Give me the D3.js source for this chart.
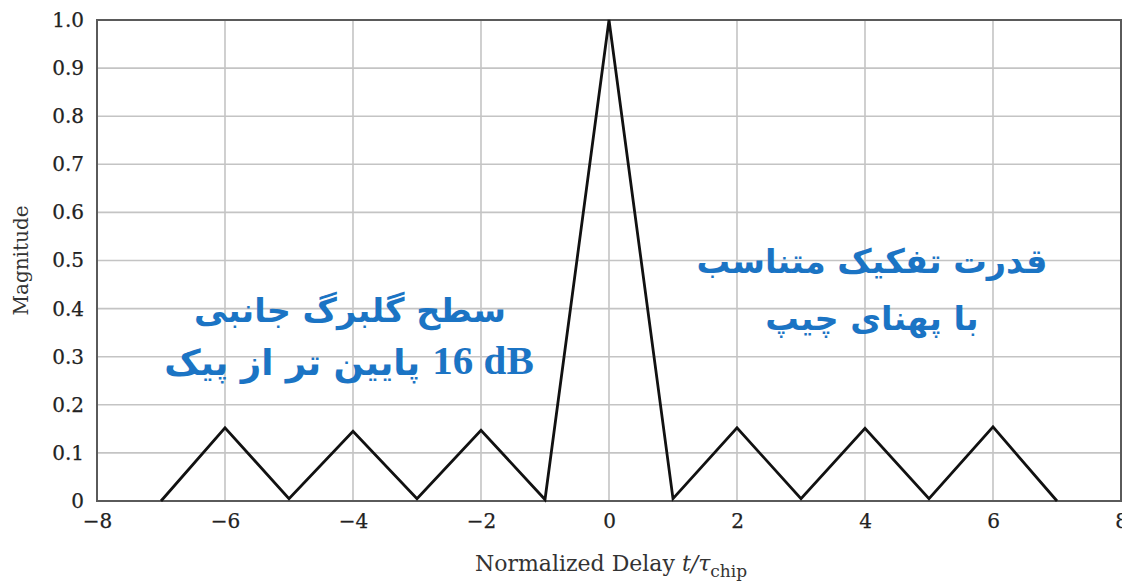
<!DOCTYPE html>
<html>
<head>
<meta charset="utf-8">
<script src="https://cdn.jsdelivr.net/npm/d3@7/dist/d3.min.js"></script>
<style>
  html, body { margin: 0; padding: 0; background: #fff; }
  svg { display: block; }
</style>
</head>
<body>
<script>
// Autocorrelation of a spreading code vs. normalized delay
const delays = [-7, -6, -5, -4, -3, -2, -1, 0, 1, 2, 3, 4, 5, 6, 7];
const magnitude = [0, 0.152, 0.005, 0.145, 0.005, 0.147, 0.003, 1.0, 0.005, 0.152, 0.005, 0.151, 0.005, 0.154, 0];
const xTicks = [-8, -6, -4, -2, 0, 2, 4, 6, 8];
const yTicks = [0, 0.1, 0.2, 0.3, 0.4, 0.5, 0.6, 0.7, 0.8, 0.9, 1.0];
const sidelobeTitle = "سطح گلبرگ جانبی";
const sidelobeLevel = "16\u200E dB";
const sidelobeRest = " پایین تر از پیک";
const resolutionNote = ["قدرت تفکیک متناسب", "با پهنای چیپ"];

const W = 1122, H = 582;
const margin = { top: 20, right: 1, bottom: 81, left: 97 };

const svg = d3.select("body").append("svg").attr("width", W).attr("height", H);

const x = d3.scaleLinear().domain([-8, 8]).range([margin.left, W - margin.right]);
const y = d3.scaleLinear().domain([0, 1]).range([H - margin.bottom, margin.top]);

const serif = "'DejaVu Serif', serif";

// grid
const grid = svg.append("g").attr("stroke", "#c4c4c4").attr("stroke-width", 1.6);
grid.selectAll("line.v").data(xTicks).join("line")
  .attr("x1", d => x(d)).attr("x2", d => x(d))
  .attr("y1", y(0)).attr("y2", y(1));
grid.selectAll("line.h").data(yTicks).join("line")
  .attr("x1", x(-8)).attr("x2", x(8))
  .attr("y1", d => y(d)).attr("y2", d => y(d));

// axes (labels only, frame drawn separately)
const xAxis = svg.append("g")
  .attr("transform", `translate(0,${y(0)})`)
  .call(d3.axisBottom(x).tickValues(xTicks).tickSize(0).tickPadding(13).tickFormat(d3.format("d")));
const yAxis = svg.append("g")
  .attr("transform", `translate(${x(-8)},0)`)
  .call(d3.axisLeft(y).tickValues(yTicks).tickSize(0).tickPadding(13)
    .tickFormat(d => d === 0 ? "0" : d3.format(".1f")(d)));
[xAxis, yAxis].forEach(a => {
  a.select(".domain").remove();
  a.selectAll("text").attr("font-family", serif).attr("font-size", 20)
    .attr("fill", "#222").attr("stroke", "#222").attr("stroke-width", 0.25);
});
xAxis.selectAll("text").attr("dy", "0.71em");

// frame
svg.append("rect")
  .attr("x", x(-8)).attr("y", y(1))
  .attr("width", x(8) - x(-8)).attr("height", y(0) - y(1))
  .attr("fill", "none").attr("stroke", "#5a5a5a").attr("stroke-width", 2);

// correlation curve
const line = d3.line().x((d, i) => x(delays[i])).y(d => y(d));
svg.append("path").datum(magnitude)
  .attr("d", line)
  .attr("fill", "none").attr("stroke", "#111").attr("stroke-width", 2.8)
  .attr("stroke-linejoin", "miter");

// axis titles
const xt = svg.append("text")
  .attr("x", 611).attr("y", 571)
  .attr("text-anchor", "middle")
  .attr("font-family", serif).attr("font-size", 22).attr("fill", "#333");
xt.append("tspan").text("Normalized Delay ");
xt.append("tspan").attr("font-style", "italic").text("t/τ");
xt.append("tspan").attr("font-size", 17).attr("dy", 6).text("chip");

svg.append("text")
  .attr("transform", `translate(28,${(y(0) + y(1)) / 2}) rotate(-90)`)
  .attr("text-anchor", "middle")
  .attr("font-family", serif).attr("font-size", 20).attr("fill", "#333")
  .text("Magnitude");

// annotations
const blue = "#1b74c4";
function noteText(cx, cy, size) {
  return svg.append("text")
    .attr("x", cx).attr("y", cy)
    .attr("text-anchor", "middle").attr("direction", "rtl")
    .attr("dominant-baseline", "middle")
    .attr("font-family", "'DejaVu Sans', sans-serif").attr("font-weight", "bold")
    .attr("font-size", size).attr("fill", blue);
}
noteText(350, 312, 33.5).text(sidelobeTitle);
const l2 = noteText(349, 365, 35.5);
l2.append("tspan").attr("font-family", "'Liberation Serif', serif").attr("font-size", 41).text(sidelobeLevel);
l2.append("tspan").text(sidelobeRest);

resolutionNote.forEach((t, i) => noteText(872, [263, 320][i], 33.5).text(t));
</script>
</body>
</html>
